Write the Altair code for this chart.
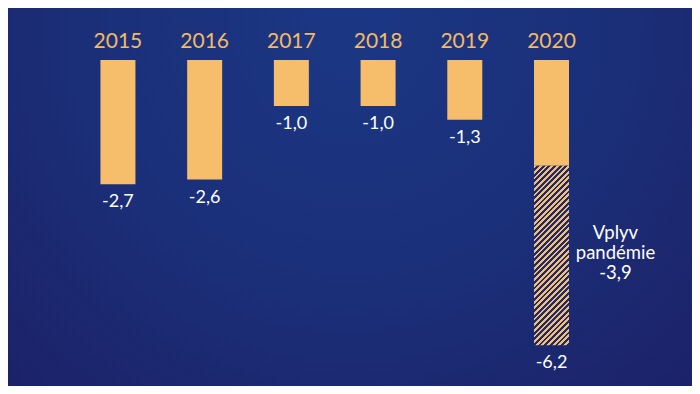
import altair as alt
import pandas as pd

# ---- data ----
years = [2015, 2016, 2017, 2018, 2019, 2020]
totals = [-2.7, -2.6, -1.0, -1.0, -1.3, -6.2]
total_labels = ["-2,7", "-2,6", "-1,0", "-1,0", "-1,3", "-6,2"]
pandemic_year = 2020
pandemic_value = -3.9
pandemic_text = "Vplyv|pandémie|-3,9"

# ---- derived tables ----
solid = []
for y, t in zip(years, totals):
    s = t - pandemic_value if y == pandemic_year else t
    solid.append(round(s, 2))

df = pd.DataFrame({"year": years, "total": totals, "solid": solid,
                   "label": total_labels, "zero": [0] * len(years)})
df_hatch = pd.DataFrame({"year": [pandemic_year],
                         "top": [solid[years.index(pandemic_year)]],
                         "bottom": [totals[years.index(pandemic_year)]],
                         "mid": [(solid[years.index(pandemic_year)] + totals[years.index(pandemic_year)]) / 2],
                         "text": [pandemic_text]})

W, H = 684, 378
ORANGE = "#f6bd6a"
BG_IN = "#1b3784"
BG_OUT = "#1c1d62"

xs = alt.Scale(domain=[2013.7898, 2021.5625], nice=False, zero=False)
ys = alt.Scale(domain=[-7.087, 1.1304], nice=False, zero=False)
X = alt.X("year:Q", scale=xs, axis=None)

# background radial gradient
bg = alt.Chart(pd.DataFrame({"a": [0]})).mark_rect(
    fill={"gradient": "radial", "x1": 0.5, "y1": 0.25, "r1": 0.0,
          "x2": 0.5, "y2": 0.25, "r2": 0.85,
          "stops": [{"offset": 0, "color": BG_IN},
                    {"offset": 0.45, "color": "#1b2f79"},
                    {"offset": 1, "color": BG_OUT}]},
    strokeWidth=0,
).encode(x=alt.value(0), x2=alt.value(W), y=alt.value(0), y2=alt.value(H))

bars = alt.Chart(df).mark_bar(size=35, color=ORANGE, orient="vertical").encode(
    x=X,
    y=alt.Y("solid:Q", scale=ys, axis=None),
    y2="zero:Q",
)

# diagonal hatching via a striped linear gradient
bw = 35.0
bh = abs(pandemic_value) * (H / (1.1304 + 7.087))
k = (bw + bh) / (bw * bw + bh * bh)
n = int(round((bw + bh) / 5.6))
stops = []
for i in range(n):
    a = i / n
    m = (i + 0.5) / n
    b = (i + 1) / n
    stops += [{"offset": a, "color": ORANGE}, {"offset": m, "color": ORANGE},
              {"offset": m, "color": "#1b2a72"}, {"offset": b, "color": "#1b2a72"}]

hatch = alt.Chart(df_hatch).mark_bar(
    size=35, orient="vertical",
    fill={"gradient": "linear", "x1": 0, "y1": 0, "x2": bw * k, "y2": bh * k,
          "stops": stops},
).encode(
    x=X,
    y=alt.Y("top:Q", scale=ys, axis=None),
    y2="bottom:Q",
)

year_labels = alt.Chart(df).mark_text(
    color="#f3b964", fontSize=21, font="Lato", baseline="alphabetic", dy=-12,
).encode(x=X, y=alt.Y("zero:Q", scale=ys, axis=None), text="year:N")

value_labels = alt.Chart(df).mark_text(
    color="white", fontSize=18, font="Lato", baseline="alphabetic", dy=23,
).encode(x=X, y=alt.Y("total:Q", scale=ys, axis=None), text="label:N")

annot = alt.Chart(df_hatch).mark_text(
    color="white", fontSize=18.5, font="Lato", baseline="middle",
    lineBreak="|", lineHeight=20, dx=64, dy=-22,
).encode(x=X, y=alt.Y("mid:Q", scale=ys, axis=None), text="text:N")

chart = alt.layer(bg, bars, hatch, year_labels, value_labels, annot).properties(
    width=W, height=H,
    autosize=alt.AutoSizeParams(type="fit", contains="padding"),
    padding=0,
    background=BG_OUT,
).configure_view(stroke=None)

chart.save("out.html", embed_options={"renderer": "svg", "actions": False})
